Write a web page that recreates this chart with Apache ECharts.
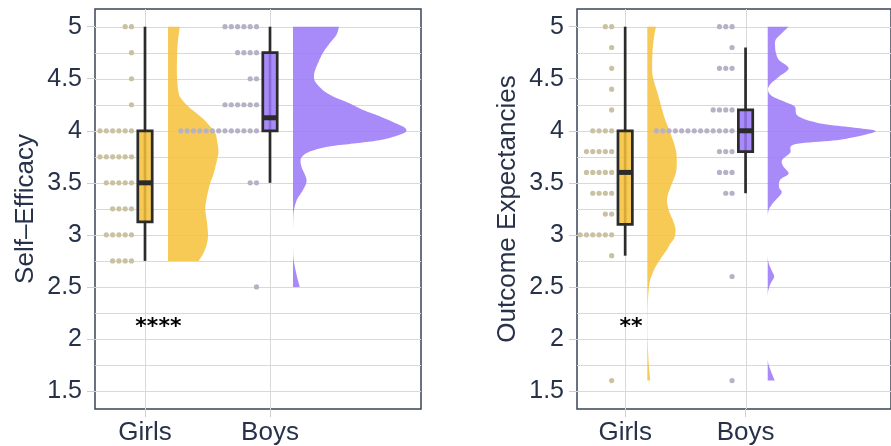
<!DOCTYPE html>
<html><head><meta charset="utf-8">
<script src="https://cdn.jsdelivr.net/npm/echarts@6/dist/echarts.min.js"></script>
<style>html,body{margin:0;padding:0;background:#fff}#c{width:891px;height:446px}</style>
</head><body><div id="c"></div>
<script>
// ---------- data ----------
const groups = ['Girls', 'Boys'];
const groupX = [1, 2];
const yTicks = [1.5, 2, 2.5, 3, 3.5, 4, 4.5, 5];
const yMinor = [1.75, 2.25, 2.75, 3.25, 3.75, 4.25, 4.75];
const panelTitles = ['Self–Efficacy', 'Outcome Expectancies'];
const sigLabels = ['****', '**'];
const sigX = [1.107, 1.048];
const sigY = [2.11, 2.11];

// dot rows: [value, count]
const seGirlsDots = [[5,2],[4.75,1],[4.5,1],[4.25,1],[4,6],[3.75,6],[3.5,5],[3.25,4],[3,5],[2.75,4]];
const seBoysDots  = [[5,6],[4.75,4],[4.5,2],[4.25,6],[4,13],[3.5,2],[2.5,1]];
const oeGirlsDots = [[5,2],[4.8,1],[4.6,1],[4.4,1],[4.2,1],[4,4],[3.8,5],[3.6,5],[3.4,4],[3.2,2],[3,7],[2.8,1],[1.6,1]];
const oeBoysDots  = [[5,3],[4.8,1],[4.6,3],[4.2,4],[4,13],[3.8,3],[3.6,3],[3.4,2],[2.6,1],[1.6,1]];

// boxes: [lower whisker, q1, median, q3, upper whisker]
const seGirlsBox = [2.75, 3.125, 3.5, 4, 5];
const seBoysBox  = [3.5, 4, 4.125, 4.75, 5];
const oeGirlsBox = [2.8, 3.1, 3.6, 4, 5];
const oeBoysBox  = [3.4, 3.8, 4, 4.2, 4.8];

// half-violin density profiles: [value, density]
const seGirlsDens = [[5.00,11.7],[4.84,9.7],[4.68,9],[4.52,9],[4.36,10.7],[4.30,14],[4.23,20.7],[4.17,28.3],[4.11,35.7],[4.04,42.3],[3.98,47.3],[3.88,49.5],[3.80,50.5],[3.75,49.7],[3.59,45.7],[3.50,42.3],[3.37,39],[3.25,37.3],[3.12,39],[3.00,40],[2.92,39],[2.83,35.7],[2.75,30.7]];
const seBoysDens = [[5.00,46],[4.92,43.3],[4.84,36.7],[4.75,30],[4.65,25],[4.57,21.7],[4.52,21],[4.47,22.3],[4.39,30],[4.33,40],[4.27,55],[4.20,70],[4.14,86.7],[4.07,103.3],[4.03,111.7],[3.99,112.7],[3.95,103],[3.91,86.7],[3.88,63],[3.85,36.7],[3.80,16.7],[3.74,8.3],[3.66,8.3],[3.56,12.7],[3.50,13.3],[3.42,9.3],[3.34,4],[3.24,1],[3.14,0.2],[2.95,0],[2.79,0.3],[2.70,1.7],[2.60,4],[2.50,6.7]];
const oeGirlsDens = [[5.00,9],[4.92,7.3],[4.80,5.7],[4.65,5],[4.52,5.7],[4.36,10.7],[4.20,15.5],[4.12,18],[4.00,23],[3.87,28],[3.77,30.3],[3.61,30],[3.48,25],[3.39,21.5],[3.32,20.5],[3.23,22.5],[3.13,27],[3.05,29.3],[2.97,28],[2.91,23.5],[2.86,20.5],[2.78,14.5],[2.70,9],[2.62,5],[2.54,2.3],[2.40,0.8],[2.20,0.3],[2.00,0.4],[1.80,1.2],[1.70,2],[1.60,3]];
const oeBoysDens = [[5.00,21.7],[4.94,15],[4.875,8.3],[4.81,7.7],[4.75,8.5],[4.68,11.7],[4.60,21.7],[4.52,11.7],[4.45,3],[4.39,0.3],[4.33,5],[4.27,20],[4.23,28.3],[4.14,31.7],[4.07,55],[4.03,90],[4.00,111.7],[3.96,100],[3.91,71.7],[3.87,28],[3.79,23.3],[3.72,15],[3.66,16],[3.59,21.7],[3.54,14],[3.50,11.7],[3.45,12],[3.40,14.3],[3.30,5],[3.21,0.3],[3.00,0],[2.80,0],[2.73,1],[2.66,4],[2.60,6.7],[2.55,4],[2.50,1.7],[2.40,0],[2.00,0],[1.80,0],[1.70,3],[1.60,7.3]];

// ---------- styling ----------
const YELLOW = 'rgba(244,193,55,0.85)';
const PURPLE = 'rgba(154,118,248,0.85)';
const DOT_G = '#c9c1a2';
const DOT_B = '#b7b1c6';
const TEXT = '#27324a';
const GRIDC = '#d9d9d9';
const LINE = '#2b2b2b';
const FONT = 'Liberation Sans';
const DENS_SCALE = 1 / 125;   // density units -> x axis units
const VIOLIN_OFFSET = 0.184;  // x axis units right of group
const DOT_OFFSET = 13.5, DOT_STEP = 6.3, DOT_R = 2.6;

function catmull(pts, seg) {
  const out = [];
  const n = pts.length;
  for (let i = 0; i < n - 1; i++) {
    const p0 = pts[Math.max(i - 1, 0)], p1 = pts[i], p2 = pts[i + 1], p3 = pts[Math.min(i + 2, n - 1)];
    for (let s = 0; s < seg; s++) {
      const t = s / seg, t2 = t * t, t3 = t2 * t;
      const f = (a, b, c, d) => 0.5 * ((2 * b) + (-a + c) * t + (2 * a - 5 * b + 4 * c - d) * t2 + (-a + 3 * b - 3 * c + d) * t3);
      out.push([f(p0[0], p1[0], p2[0], p3[0]), f(p0[1], p1[1], p2[1], p3[1])]);
    }
  }
  out.push(pts[n - 1]);
  return out;
}

function gridLines(gi) {
  const data = yTicks.concat(yMinor).map(v => [0, v, 0]).concat(groupX.map(x => [x, 0, 1]));
  return {
    type: 'custom', xAxisIndex: gi, yAxisIndex: gi, z: 1, silent: true, clip: false,
    data: data,
    renderItem: (params, api) => {
      const cs = params.coordSys;
      if (api.value(2) === 0) {
        const y = Math.round(api.coord([1, api.value(1)])[1]) + 0.5;
        return { type: 'line', shape: { x1: cs.x, y1: y, x2: cs.x + cs.width, y2: y }, style: { stroke: GRIDC, lineWidth: 1 } };
      }
      const x = Math.round(api.coord([api.value(0), 3])[0]) + 0.5;
      return { type: 'line', shape: { x1: x, y1: cs.y, x2: x, y2: cs.y + cs.height }, style: { stroke: GRIDC, lineWidth: 1 } };
    }
  };
}

function violin(gi, gx, dens, color) {
  return {
    type: 'custom', xAxisIndex: gi, yAxisIndex: gi, z: 2, silent: true, clip: true,
    data: [[gx, dens[0][0]]],
    renderItem: (params, api) => {
      const base = gx + VIOLIN_OFFSET;
      const edge = dens.map(d => api.coord([base + d[1] * DENS_SCALE, d[0]]));
      const bx = api.coord([base, dens[0][0]])[0];
      const smooth = catmull(edge, 10).map(p => [Math.max(p[0], bx), p[1]]);
      const top = api.coord([base, dens[0][0]]);
      const bot = api.coord([base, dens[dens.length - 1][0]]);
      const pts = [top].concat(smooth).concat([bot]);
      return { type: 'polygon', shape: { points: pts }, style: { fill: color } };
    }
  };
}

function dots(gi, gx, rows, color) {
  return {
    type: 'custom', xAxisIndex: gi, yAxisIndex: gi, z: 3, silent: true, clip: true,
    data: rows.map(r => [gx, r[0], r[1]]),
    renderItem: (params, api) => {
      const p = api.coord([api.value(0), api.value(1)]);
      const n = api.value(2);
      const children = [];
      for (let k = 0; k < n; k++) {
        children.push({ type: 'circle', shape: { cx: p[0] - DOT_OFFSET - k * DOT_STEP, cy: p[1], r: DOT_R }, style: { fill: color } });
      }
      return { type: 'group', children };
    }
  };
}

function box(gi, gx, b, color) {
  return {
    type: 'custom', xAxisIndex: gi, yAxisIndex: gi, z: 4, silent: true, clip: false,
    data: [[gx].concat(b)],
    renderItem: (params, api) => {
      const c = v => api.coord([gx, v]);
      const cx = c(b[2])[0];
      const yLo = c(b[0])[1], yQ1 = c(b[1])[1], yMed = c(b[2])[1], yQ3 = c(b[3])[1], yHi = c(b[4])[1];
      const hw = 7.2;
      return { type: 'group', children: [
        { type: 'line', shape: { x1: cx, y1: yHi, x2: cx, y2: yLo }, style: { stroke: LINE, lineWidth: 2.7 } },
        { type: 'rect', shape: { x: cx - hw, y: yQ3, width: 2 * hw, height: yQ1 - yQ3 }, style: { fill: color, stroke: LINE, lineWidth: 2.7 } },
        { type: 'line', shape: { x1: cx - hw, y1: yMed, x2: cx + hw, y2: yMed }, style: { stroke: LINE, lineWidth: 5 } }
      ] };
    }
  };
}

function sig(gi) {
  return {
    type: 'custom', xAxisIndex: gi, yAxisIndex: gi, z: 5, silent: true, clip: false,
    data: [[sigX[gi], sigY[gi]]],
    renderItem: (params, api) => {
      const p = api.coord([api.value(0), api.value(1)]);
      return { type: 'text', style: { text: sigLabels[gi], x: p[0], y: p[1], align: 'center', verticalAlign: 'middle', fontSize: 22, fontWeight: 'bold', fontFamily: 'DejaVu Sans', fill: '#000' } };
    }
  };
}

const grids = [
  { left: 95, top: 9, width: 326, height: 400 },
  { left: 577, top: 9, width: 326, height: 400 }
].map(g => Object.assign({ show: true, borderColor: '#3a4455', borderWidth: 1.5, backgroundColor: 'transparent' }, g));

const xAxes = [0, 1].map(i => ({
  type: 'value', gridIndex: i, min: 0.6, max: 3.208,
  axisLine: { show: false }, splitLine: { show: false },
  axisTick: { show: true, customValues: groupX, length: 8, lineStyle: { color: '#cfcfcf', width: 1 } },
  axisLabel: { customValues: groupX, formatter: v => groups[groupX.indexOf(v)], fontSize: 26, color: TEXT, fontFamily: FONT, margin: 11 }
}));

const yAxes = [0, 1].map(i => ({
  type: 'value', gridIndex: i, min: 1.327, max: 5.17,
  axisLine: { show: false }, splitLine: { show: false },
  axisTick: { show: true, customValues: yTicks, length: 8, lineStyle: { color: '#cfcfcf', width: 1 } },
  axisLabel: { customValues: yTicks, fontSize: 25, color: TEXT, fontFamily: FONT, margin: 13 },
  name: panelTitles[i], nameLocation: 'middle', nameGap: 56,
  nameTextStyle: { fontSize: 26, color: TEXT, fontFamily: FONT }
}));

const series = [
  gridLines(0), gridLines(1),
  violin(0, groupX[0], seGirlsDens, YELLOW), violin(0, groupX[1], seBoysDens, PURPLE),
  violin(1, groupX[0], oeGirlsDens, YELLOW), violin(1, groupX[1], oeBoysDens, PURPLE),
  dots(0, groupX[0], seGirlsDots, DOT_G), dots(0, groupX[1], seBoysDots, DOT_B),
  dots(1, groupX[0], oeGirlsDots, DOT_G), dots(1, groupX[1], oeBoysDots, DOT_B),
  box(0, groupX[0], seGirlsBox, YELLOW), box(0, groupX[1], seBoysBox, PURPLE),
  box(1, groupX[0], oeGirlsBox, YELLOW), box(1, groupX[1], oeBoysBox, PURPLE),
  sig(0), sig(1)
];

const chart = echarts.init(document.getElementById('c'), null, { renderer: 'canvas' });
chart.setOption({ animation: false, backgroundColor: '#fff', grid: grids, xAxis: xAxes, yAxis: yAxes, series });
</script>
</body></html>
